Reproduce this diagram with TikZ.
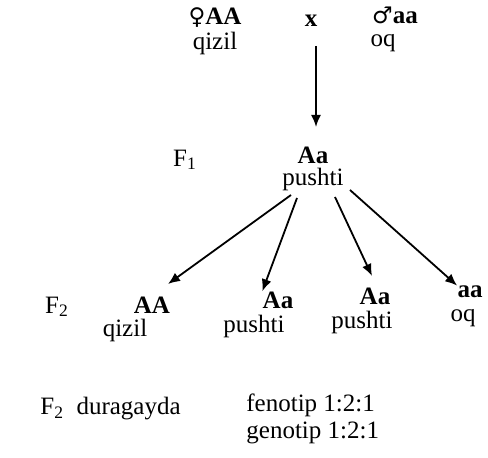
\documentclass[tikz,border=0pt]{standalone}
\usepackage{fontspec}
\setmainfont{Liberation Serif}
\newfontfamily\symfont{DejaVu Sans}
\usetikzlibrary{arrows.meta}
\tikzset{
  gen/.style={font=\fontsize{12.5}{14}\selectfont\bfseries, inner sep=0pt},
  lbl/.style={font=\fontsize{12.5}{14}\selectfont, inner sep=0pt},
  arr/.style={-{Latex[length=6pt,width=5pt]}, line width=0.9pt}
}
\begin{document}
\begin{tikzpicture}[x=0.5pt,y=-0.5pt]
            \useasboundingbox (0,0) rectangle (488,458);

            %ota-ona
            \node[gen] (p1) at (215,18) {{\symfont\mdseries\fontsize{11.5}{12}\selectfont ♀}AA};
            \node[gen] (x) at (311,21) {x};
            \node[gen] (p2) at (395,15) {{\symfont\mdseries\fontsize{11.5}{12}\selectfont ♂}aa};
            \node[lbl] (p1c) at (215,43) {qizil};
            \node[lbl] (p2c) at (383,43) {oq};
            \coordinate (top) at (316,46);

            %F1
            \node[lbl] (f1) at (185,160) {F\textsubscript{1}};
            \node[gen] (h) at (313,155) {Aa};
            \node[lbl] (hc) at (313,179) {pushti};
            \draw[arr] (top) -- (316,127) coordinate (htip);

            %F2
            \node[lbl] (f2) at (57,307) {F\textsubscript{2}};
            \node[gen] (c1) at (152,305) {AA};
            \node[lbl] (c1c) at (125,330) {qizil};
            \node[gen] (c2) at (278,300) {Aa};
            \node[lbl] (c2c) at (254,326) {pushti};
            \node[gen] (c3) at (375,296) {Aa};
            \node[lbl] (c3c) at (362,322) {pushti};
            \node[gen] (c4) at (470,292) {aa};
            \node[lbl] (c4c) at (463,318) {oq};

            %strelkalar
            \draw[arr] (291,195) -- (168,284);
            \draw[arr] (297,198) -- (c2.north west);
            \draw[arr] (335,197) -- (372,276);
            \draw[arr] (350,190) -- (c4.north west);

            %natija
            \node[lbl,anchor=west] (res) at (40,409) {F\textsubscript{2}\ \ duragayda};
            \node[lbl,anchor=west] (fen) at (246,405) {fenotip 1:2:1};
            \node[lbl,anchor=west] (gen) at (246,433) {genotip 1:2:1};
        \end{tikzpicture}
\end{document}
